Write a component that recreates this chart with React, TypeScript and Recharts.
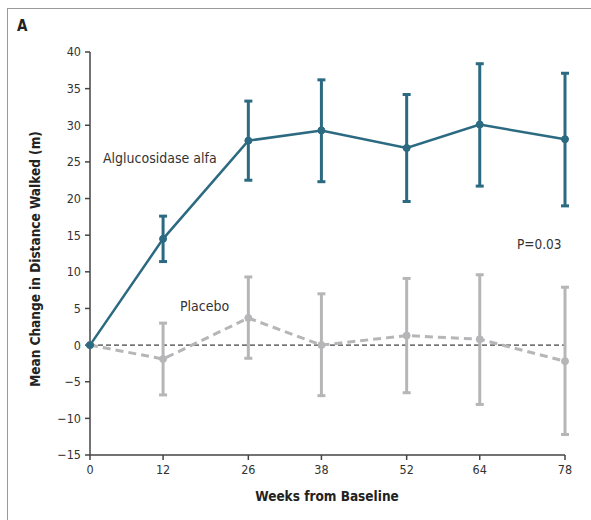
import React from 'react';
import { LineChart, Line, XAxis, YAxis, ErrorBar, ReferenceLine, Customized } from 'recharts';

const weeks = [0, 12, 26, 38, 52, 64, 78];
const alfaMean = [0, 14.5, 27.9, 29.3, 26.9, 30.1, 28.1];
const alfaLow = [0, 11.4, 22.5, 22.3, 19.6, 21.7, 19.0];
const alfaHigh = [0, 17.6, 33.3, 36.2, 34.2, 38.4, 37.1];
const placeboMean = [0, -1.9, 3.7, 0, 1.3, 0.8, -2.2];
const placeboLow = [0, -6.8, -1.8, -6.9, -6.5, -8.1, -12.2];
const placeboHigh = [0, 3.0, 9.3, 7.0, 9.1, 9.6, 7.9];
const yTicks = [-15, -10, -5, 0, 5, 10, 15, 20, 25, 30, 35, 40];

const data = weeks.map((w, i) => ({
  week: w,
  alfa: alfaMean[i],
  alfaErr: [alfaMean[i] - alfaLow[i], alfaHigh[i] - alfaMean[i]],
  placebo: placeboMean[i],
  placeboErr: [placeboMean[i] - placeboLow[i], placeboHigh[i] - placeboMean[i]],
}));

const FONT = '"Liberation Sans Narrow", "DejaVu Sans Condensed", "Open Sans", sans-serif';
const TEAL = '#2b6a80';
const GRAY = '#b6b6b8';

const Annotations = () => (
  <g fontFamily={FONT}>
    <text x={17} y={31} fontSize={15} fontWeight="bold" fill="#222">A</text>
    <text x={103} y={163} fontSize={14} fill="#333">Alglucosidase alfa</text>
    <text x={180} y={311} fontSize={14} fill="#333">Placebo</text>
    <text x={517} y={249} fontSize={13.5} fill="#333">P=0.03</text>
    <text x={327} y={501} fontSize={13.5} fontWeight="bold" fill="#222" textAnchor="middle">Weeks from Baseline</text>
    <text
      x={0}
      y={0}
      transform="translate(40,259) rotate(-90)"
      fontSize={13.5}
      fontWeight="bold"
      fill="#222"
      textAnchor="middle"
    >
      Mean Change in Distance Walked (m)
    </text>
  </g>
);

const fmt = (v: number) => (v < 0 ? '\u2212' + Math.abs(v) : String(v));

export default function App() {
  return (
    <div style={{ position: 'absolute', left: 0, top: 0, width: 591, height: 520, background: '#fff' }}>
      <div
        style={{
          position: 'absolute',
          left: 7,
          top: 8,
          width: 584,
          height: 512,
          borderTop: '1.5px solid #999',
          borderLeft: '1.5px solid #999',
          boxSizing: 'border-box',
        }}
      />
      <LineChart
        width={591}
        height={520}
        data={data}
        margin={{ top: 52, right: 26, bottom: 25, left: 50 }}
        style={{ position: 'absolute', left: 0, top: 0 }}
      >
        <XAxis
          dataKey="week"
          type="number"
          domain={[0, 78]}
          ticks={weeks}
          height={40}
          stroke="#444"
          strokeWidth={1.5}
          tickSize={5}
          tickMargin={5}
          tick={{ fill: '#333', fontSize: 12.5, fontFamily: FONT }}
          interval={0}
        />
        <YAxis
          type="number"
          domain={[-15, 40]}
          ticks={yTicks}
          width={40}
          stroke="#444"
          strokeWidth={1.5}
          tickSize={5}
          tickMargin={4}
          tickFormatter={fmt}
          tick={{ fill: '#333', fontSize: 12.5, fontFamily: FONT }}
          interval={0}
        />
        <ReferenceLine y={0} stroke="#111" strokeWidth={1} strokeDasharray="5 3" />
        <Line
          dataKey="placebo"
          stroke={GRAY}
          strokeWidth={3}
          strokeDasharray="8 5"
          isAnimationActive={false}
          dot={{ r: 3.5, fill: GRAY, stroke: GRAY, strokeWidth: 1, strokeDasharray: '0' }}
        >
          <ErrorBar dataKey="placeboErr" width={4} stroke={GRAY} strokeWidth={3} direction="y" />
        </Line>
        <Line
          dataKey="alfa"
          stroke={TEAL}
          strokeWidth={2.5}
          isAnimationActive={false}
          dot={{ r: 3.5, fill: TEAL, stroke: TEAL, strokeWidth: 1 }}
        >
          <ErrorBar dataKey="alfaErr" width={4} stroke={TEAL} strokeWidth={3} direction="y" />
        </Line>
        <Customized component={Annotations} />
      </LineChart>
    </div>
  );
}
